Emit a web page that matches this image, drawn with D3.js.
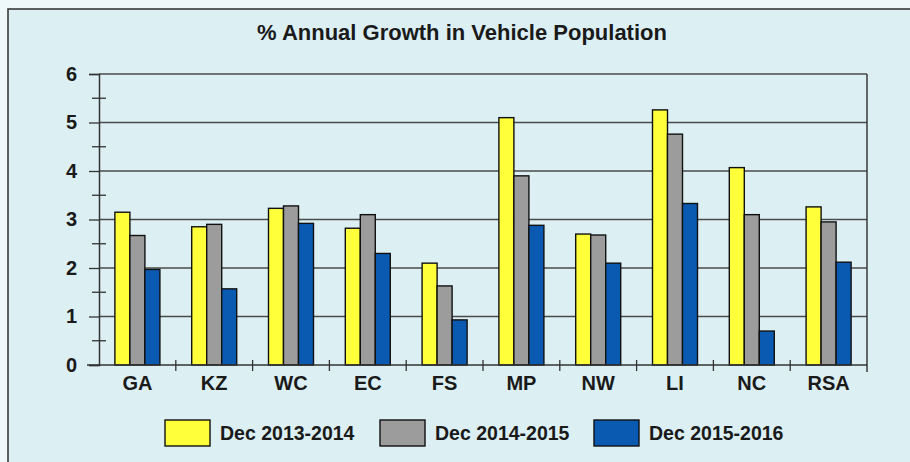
<!DOCTYPE html>
<html>
<head>
<meta charset="utf-8">
<script src="https://cdn.jsdelivr.net/npm/d3@7"></script>
<style>
  html, body { margin: 0; padding: 0; background: #eef7f9; }
  svg { display: block; font-family: "Liberation Sans", Arial, sans-serif; }
</style>
</head>
<body>
<svg id="chart" width="910" height="462"></svg>
<script>
const title = "% Annual Growth in Vehicle Population";
const categories = ["GA", "KZ", "WC", "EC", "FS", "MP", "NW", "LI", "NC", "RSA"];
const seriesNames = ["Dec 2013-2014", "Dec 2014-2015", "Dec 2015-2016"];
const s2014 = [3.15, 2.85, 3.23, 2.82, 2.10, 5.10, 2.70, 5.26, 4.07, 3.26];
const s2015 = [2.67, 2.90, 3.28, 3.10, 1.63, 3.90, 2.68, 4.76, 3.10, 2.95];
const s2016 = [1.97, 1.57, 2.92, 2.30, 0.93, 2.88, 2.10, 3.33, 0.70, 2.12];
const yTicks = [0, 1, 2, 3, 4, 5, 6];
const yMinorTicks = [0.5, 1.5, 2.5, 3.5, 4.5, 5.5];
const colors = ["#ffff3a", "#9c9c9c", "#0b5ab2"];

const seriesValues = [s2014, s2015, s2016];

const svg = d3.select("#chart");

// background panel with frame
svg.append("rect").attr("x", 0).attr("y", 0).attr("width", 910).attr("height", 462).attr("fill", "#eef7f9");
svg.append("rect").attr("x", 8).attr("y", 9).attr("width", 920).attr("height", 470)
  .attr("fill", "#dcf0f4").attr("stroke", "#3a3a3a").attr("stroke-width", 1.6);

const pLeft = 99, pRight = 867, pTop = 74, pBottom = 365;

const x = d3.scaleBand().domain(categories).range([pLeft, pRight]).paddingInner(0.414).paddingOuter(0.207);
const xs = d3.scaleBand().domain(seriesNames).range([0, x.bandwidth()]);
const y = d3.scaleLinear().domain([0, 6]).range([pBottom, pTop]);

// title
svg.append("text").attr("x", 462).attr("y", 40).attr("text-anchor", "middle")
  .attr("font-size", 22).attr("font-weight", "bold").attr("fill", "#1a1a1a").text(title);

// gridlines
svg.append("g").selectAll("line").data(yTicks.filter(d => d > 0)).join("line")
  .attr("x1", pLeft).attr("x2", pRight).attr("y1", d => y(d)).attr("y2", d => y(d))
  .attr("stroke", "#4a4a4a").attr("stroke-width", 1.3);

// right border
svg.append("line").attr("x1", pRight).attr("x2", pRight).attr("y1", y(6)).attr("y2", pBottom + 7)
  .attr("stroke", "#3a3a3a").attr("stroke-width", 1.5);

// bars
const groups = svg.append("g").selectAll("g").data(categories).join("g")
  .attr("transform", d => `translate(${x(d)},0)`);
groups.selectAll("rect").data((c, i) => seriesNames.map((s, j) => ({ s, j, v: seriesValues[j][i] })))
  .join("rect")
  .attr("x", d => xs(d.s)).attr("width", xs.bandwidth())
  .attr("y", d => y(d.v)).attr("height", d => y(0) - y(d.v))
  .attr("fill", d => colors[d.j]).attr("stroke", "#111").attr("stroke-width", 1.4);

// y axis
const yAxis = d3.axisLeft(y).tickValues(yTicks).tickSize(10).tickPadding(12).tickFormat(d3.format("d"));
const ya = svg.append("g").attr("transform", `translate(${pLeft},0)`).call(yAxis);
ya.select(".domain").attr("stroke", "#333").attr("stroke-width", 1.5);
ya.selectAll(".tick line").attr("stroke", "#333").attr("stroke-width", 1.3);
ya.selectAll(".tick text").attr("font-size", 20).attr("font-weight", "bold").attr("fill", "#1a1a1a")
  .attr("font-family", "Liberation Sans, Arial, sans-serif");
// minor ticks crossing axis
svg.append("g").selectAll("line").data(yMinorTicks).join("line")
  .attr("x1", pLeft - 7).attr("x2", pLeft + 7).attr("y1", d => y(d)).attr("y2", d => y(d))
  .attr("stroke", "#333").attr("stroke-width", 1.3);

// x axis
svg.append("line").attr("x1", pLeft - 12).attr("x2", pRight).attr("y1", pBottom).attr("y2", pBottom)
  .attr("stroke", "#333").attr("stroke-width", 1.5);
const boundaries = categories.slice(1).map(c => x(c) - x.step() * x.paddingInner() / 2);
svg.append("g").selectAll("line").data(boundaries).join("line")
  .attr("x1", d => d).attr("x2", d => d).attr("y1", pBottom - 5).attr("y2", pBottom + 6)
  .attr("stroke", "#333").attr("stroke-width", 1.3);
svg.append("g").selectAll("text").data(categories).join("text")
  .attr("x", d => x(d) + x.bandwidth() / 2).attr("y", 390)
  .attr("text-anchor", "middle").attr("font-size", 20).attr("font-weight", "bold").attr("fill", "#1a1a1a")
  .text(d => d);

// legend
const legendX = [165, 380, 594];
const lg = svg.append("g").selectAll("g").data(seriesNames).join("g")
  .attr("transform", (d, i) => `translate(${legendX[i]},420)`);
lg.append("rect").attr("width", 45).attr("height", 26)
  .attr("fill", (d, i) => colors[i]).attr("stroke", "#111").attr("stroke-width", 1.4);
lg.append("text").attr("x", 55).attr("y", 19.5).attr("font-size", 19.5).attr("font-weight", "bold")
  .attr("fill", "#1a1a1a").text(d => d);
</script>
</body>
</html>
